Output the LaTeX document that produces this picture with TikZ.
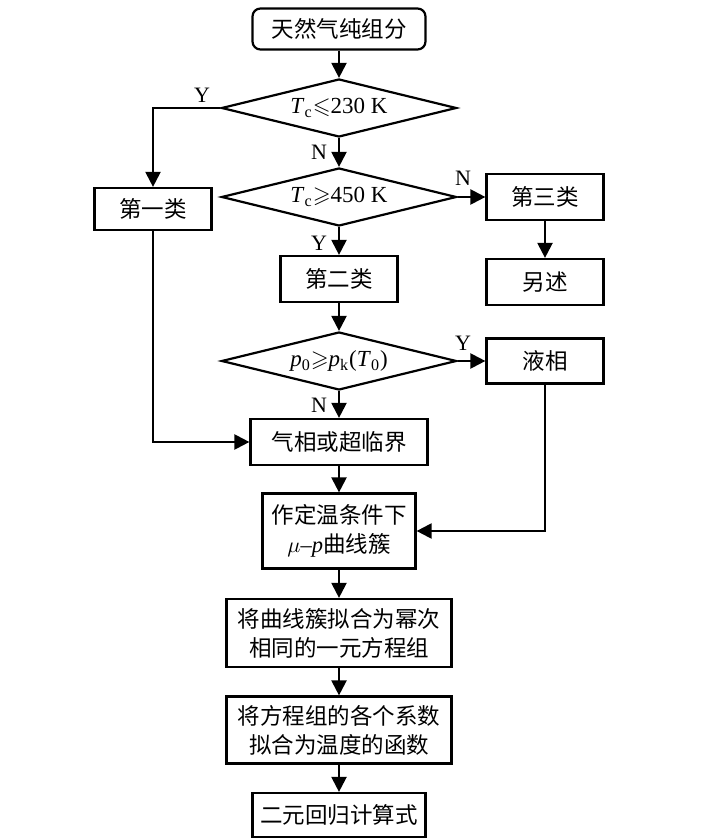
\documentclass[tikz,border=0pt]{standalone}
\usepackage{amssymb,amsmath}
\usepackage{fontspec}
\setmainfont{Liberation Serif}
\newfontfamily\cjk{Noto Sans CJK SC}
\usetikzlibrary{%
  arrows.meta,%
  shapes.geometric%
}
\tikzset{>={Triangle[length=7.5pt,width=7.5pt]}}
\tikzset{
  procbox/.style={draw,rectangle,inner sep=0pt,align=center,
    font=\cjk\fontsize{11.25}{14.5}\selectfont},
  startbox/.style={procbox,rounded corners=4pt},
  decbox/.style={draw,diamond,aspect=4,inner sep=0pt,
    minimum width=117.5pt,minimum height=29pt,font=\fontsize{11.5}{13}\selectfont},
  ynlabel/.style={font=\fontsize{11}{13}\selectfont}
}

\begin{document}
\begin{tikzpicture}[x=0.5pt,y=-0.5pt,line width=1.1pt]
        \useasboundingbox (0,0) rectangle (700,838);
        % main column
        \node[startbox,minimum width=86.5pt,minimum height=20.5pt] (start) at (339,29) {天然气纯组分};
        \node[decbox] (tlow) at (339,108) {\textit{T}\textsubscript{c}$\leqslant$230 K};
        \node[decbox] (thigh) at (339,197) {\textit{T}\textsubscript{c}$\geqslant$450 K};
        \node[procbox,minimum width=58.5pt,minimum height=23pt] (second) at (339,279) {第二类};
        \node[decbox] (pcheck) at (339,361) {\textit{p}\textsubscript{0}$\geqslant$\textit{p}\textsubscript{k}(\textit{T}\textsubscript{0})};
        \node[procbox,minimum width=88.5pt,minimum height=23pt] (gas) at (339,442) {气相或超临界};
        \node[procbox,minimum width=76.5pt,minimum height=37.5pt] (curves) at (339,531)
        {作定温条件下\\{\rmfamily$\mu$\textendash\textit{p}}曲线簇};
        \node[procbox,minimum width=112.5pt,minimum height=34pt] (fiteq) at (339,633)
        {将曲线簇拟合为幂次\\相同的一元方程组};
        \node[procbox,minimum width=112.5pt,minimum height=33.5pt] (fitcoef) at (339,730)
        {将方程组的各个系数\\拟合为温度的函数};
        \node[procbox,minimum width=86.5pt,minimum height=22pt] (result) at (339,815) {二元回归计算式};
        % side boxes
        \node[procbox,minimum width=58.5pt,minimum height=21pt] (first) at (153,209) {第一类};
        \node[procbox,minimum width=58.5pt,minimum height=23pt] (third) at (545,197) {第三类};
        \node[procbox,minimum width=58.5pt,minimum height=23pt] (other) at (545,282) {另述};
        \node[procbox,minimum width=58.5pt,minimum height=22.5pt] (liquid) at (545,361) {液相};
        % Y/N labels
        \node[ynlabel] (ylow) at (202,95) {Y};
        \node[ynlabel] (nlow) at (319,152) {N};
        \node[ynlabel] (nhigh) at (463,178) {N};
        \node[ynlabel] (yhigh) at (319,243) {Y};
        \node[ynlabel] (yliq) at (463,343) {Y};
        \node[ynlabel] (ngas) at (319,405) {N};
        % connectors
        \draw[->] (start) -- (tlow);
        \draw[->] (tlow) -- (thigh);
        \draw[->] (tlow.west) -| (first.north);
        \draw[->] (thigh.east) -- (third.west);
        \draw[->] (third) -- (other);
        \draw[->] (thigh) -- (second);
        \draw[->] (second) -- (pcheck);
        \draw[->] (pcheck.east) -- (liquid.west);
        \draw[->] (pcheck) -- (gas);
        \draw[->] (first.south) |- (gas.west);
        \draw[->] (liquid.south) |- (curves.east);
        \draw[->] (gas) -- (curves);
        \draw[->] (curves) -- (fiteq);
        \draw[->] (fiteq) -- (fitcoef);
        \draw[->] (fitcoef) -- (result);
      \end{tikzpicture}
\end{document}
